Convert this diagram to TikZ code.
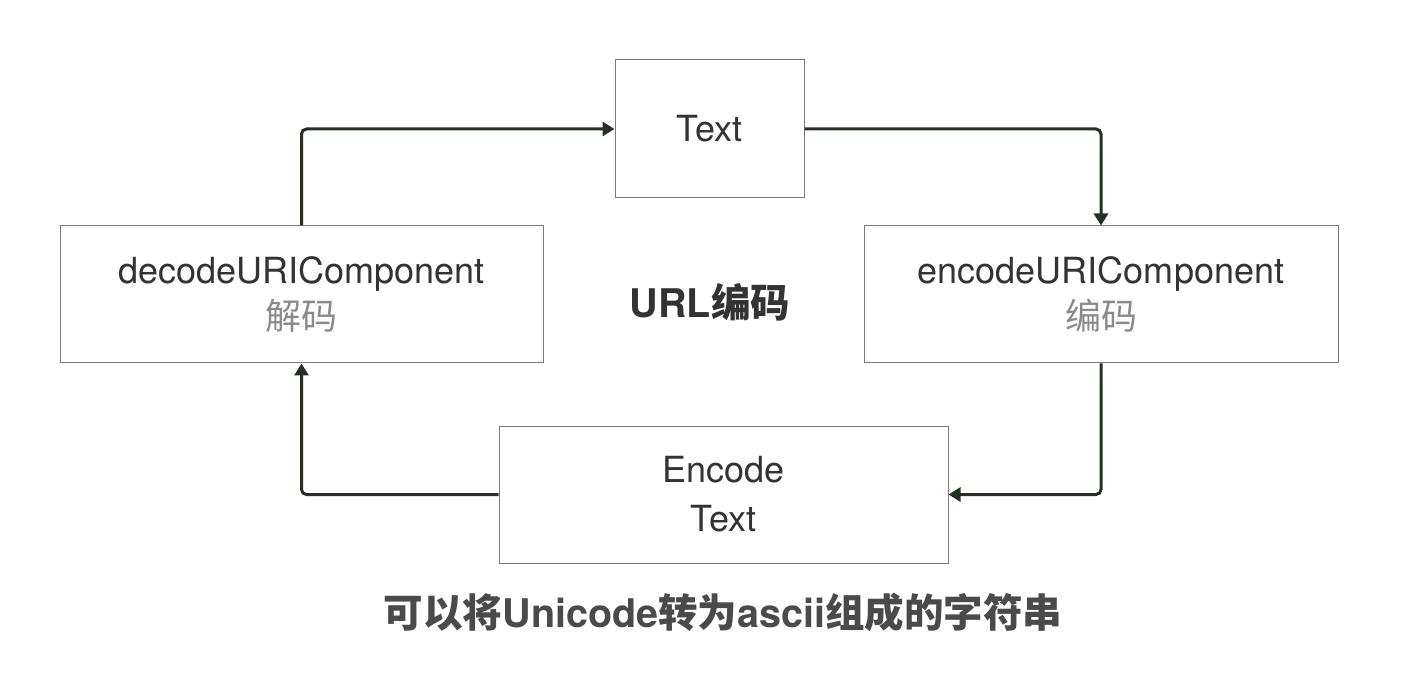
\documentclass[tikz,border=0pt]{standalone}
\usepackage{fontspec}
\setmainfont{TeX Gyre Heros}
\newfontfamily\cjk{Noto Sans CJK SC}
\usetikzlibrary{arrows.meta}
\definecolor{linec}{HTML}{233023}
\definecolor{boxc}{HTML}{7A7A7A}
\definecolor{txtc}{HTML}{333333}
\definecolor{subc}{HTML}{8A8A8A}
\definecolor{botc}{HTML}{4A4A4A}
\tikzset{
  box/.style={draw=boxc, line width=1pt, inner sep=0pt, align=center, text=txtc,
    font=\fontsize{36}{49}\selectfont},
  arr/.style={draw=linec, line width=3pt, rounded corners=5pt,
    -{Triangle[length=12pt,width=14pt]}},
}
\begin{document}
\begin{tikzpicture}[x=1pt,y=-1pt]
\useasboundingbox (0,0) rectangle (1416,692);
\node[box, minimum width=189pt, minimum height=138pt] (txt) at (709.5,129) {Text};
\node[box, minimum width=483pt, minimum height=137pt] (dec) at (301.5,294.5)
  {decodeURIComponent\\[-3pt]\textcolor{subc}{\cjk 解码}};
\node[box, minimum width=474pt, minimum height=137pt] (enc) at (1101,294.5)
  {encodeURIComponent\\[-3pt]\textcolor{subc}{\cjk 编码}};
\node[box, minimum width=449pt, minimum height=137pt] (et) at (723.5,494.5)
  {Encode\\Text};
\node[text=txtc, font=\fontsize{39.5}{44}\selectfont\bfseries] (title) at (710,302) {URL{\cjk 编码}};
\node[text=botc, font=\fontsize{39.5}{44}\selectfont\bfseries] (bot) at (723,612)
  {{\cjk 可以将}Unicode{\cjk 转为}ascii{\cjk 组成的字符串}};
\draw[arr] (dec.north) -- (dec.north |- txt.west) -- (txt.west);
\draw[arr] (txt.east) -- (txt.east -| enc.north) -- (enc.north);
\draw[arr] (enc.south) -- (enc.south |- et.east) -- (et.east);
\draw[arr] (et.west) -- (et.west -| dec.south) -- (dec.south);
\end{tikzpicture}
\end{document}
